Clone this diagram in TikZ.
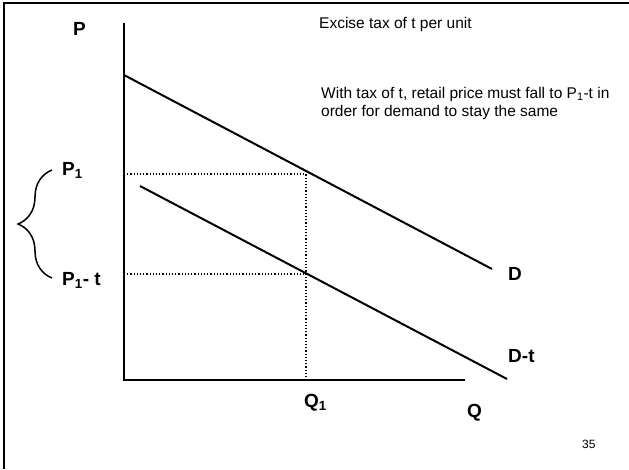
\documentclass[tikz,border=0pt]{standalone}
\usepackage{fontspec}
\setmainfont{Liberation Sans}
\usetikzlibrary{decorations.pathreplacing}

\tikzset{
  frameline/.style={line width=2.5pt},
  axisline/.style={line width=2pt},
  demand/.style={line width=2pt},
  guide/.style={line width=1.2pt, dotted},
  lab/.style={anchor=base west, inner sep=0pt, font=\fontsize{19}{22}\selectfont\bfseries},
  note/.style={anchor=base west, inner sep=0pt, font=\fontsize{15.5}{18.5}\selectfont},
}

\begin{document}
\begin{tikzpicture}[x=1pt, y=-1pt]
\useasboundingbox (0,0) rectangle (629,469);
% frame, top and left edges
\coordinate (ftl) at (4,3);
\coordinate (ftr) at (629,3);
\coordinate (fbl) at (4,469);
\draw[frameline] (fbl) -- (ftl) -- (ftr);
% axes
\coordinate (O) at (124,380);
\coordinate (ytop) at (124,23);
\coordinate (xend) at (465,380);
\draw[axisline] (ytop) -- (O) -- (xend);
% demand before and after the tax
\coordinate (D0) at (124,75);
\coordinate (D1) at (492,269);
\coordinate (Dt0) at (140,186);
\coordinate (Dt1) at (507,379);
\draw[demand] (D0) -- (D1);
\draw[demand] (Dt0) -- (Dt1);
% dotted guides
\coordinate (p1) at (124,174);
\coordinate (a1) at (306,174);
\coordinate (p1t) at (124,274);
\coordinate (a2) at (306,274);
\coordinate (q1) at (306,380);
\draw[guide] (p1) -- (a1) -- (q1);
\draw[guide] (p1t) -- (a2);
% labels
\node[lab] (Plab) at (73,35) {P};
\node[lab] (P1lab) at (62,175) {P\textsubscript{1}};
\node[lab] (P1tlab) at (62,285) {P\textsubscript{1}- t};
\node[lab] (Dlab) at (508,280) {D};
\node[lab] (Dtlab) at (508,362) {D-t};
\node[lab] (Q1lab) at (304,407) {Q\textsubscript{1}};
\node[lab] (Qlab) at (467,417) {Q};
% brace between the two prices
\coordinate (bb) at (52,278);
\coordinate (bt) at (52,170);
\draw[line width=1.5pt, decorate, decoration={brace, amplitude=34pt}] (bb) -- (bt);
% notes
\node[note] (tax) at (319,28) {Excise tax of t per unit};
\node[note, anchor=north west, align=left] (expl) at (321,87)
  {With tax of t, retail price must fall to P\textsubscript{1}-t in\\order for demand to stay the same};
\node[anchor=base west, inner sep=0pt, font=\fontsize{12}{14}\selectfont] (pg) at (582,448) {35};
\end{tikzpicture}
\end{document}
